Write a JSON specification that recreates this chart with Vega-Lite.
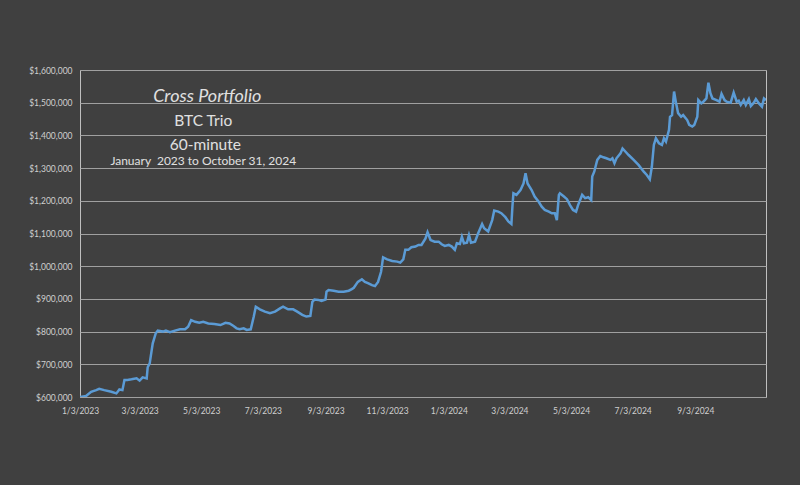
{
  "$schema": "https://vega.github.io/schema/vega-lite/v6.json",
  "width": 686,
  "height": 327,
  "autosize": {"type": "none"},
  "padding": {"left": 80, "top": 70, "right": 34, "bottom": 88},
  "background": "#404040",
  "config": {"view": {"stroke": "#bfbfbf", "strokeWidth": 1}, "font": "Lato"},
  "datasets": {
    "series": [
      {"date": "2023-01-03", "value": 600000},
      {"date": "2023-01-09", "value": 603000},
      {"date": "2023-01-14", "value": 616000},
      {"date": "2023-01-19", "value": 621000},
      {"date": "2023-01-22", "value": 625000},
      {"date": "2023-01-27", "value": 621000},
      {"date": "2023-02-03", "value": 616000},
      {"date": "2023-02-08", "value": 611000},
      {"date": "2023-02-11", "value": 623000},
      {"date": "2023-02-14", "value": 621000},
      {"date": "2023-02-16", "value": 652000},
      {"date": "2023-02-19", "value": 652000},
      {"date": "2023-02-23", "value": 654000},
      {"date": "2023-02-28", "value": 657000},
      {"date": "2023-03-03", "value": 650000},
      {"date": "2023-03-06", "value": 660000},
      {"date": "2023-03-10", "value": 657000},
      {"date": "2023-03-11", "value": 691000},
      {"date": "2023-03-13", "value": 703000},
      {"date": "2023-03-15", "value": 744000},
      {"date": "2023-03-16", "value": 764000},
      {"date": "2023-03-19", "value": 795000},
      {"date": "2023-03-21", "value": 803000},
      {"date": "2023-03-26", "value": 800000},
      {"date": "2023-03-29", "value": 803000},
      {"date": "2023-04-02", "value": 798000},
      {"date": "2023-04-07", "value": 803000},
      {"date": "2023-04-12", "value": 807000},
      {"date": "2023-04-17", "value": 807000},
      {"date": "2023-04-20", "value": 815000},
      {"date": "2023-04-23", "value": 835000},
      {"date": "2023-04-27", "value": 830000},
      {"date": "2023-05-01", "value": 827000},
      {"date": "2023-05-05", "value": 830000},
      {"date": "2023-05-10", "value": 825000},
      {"date": "2023-05-16", "value": 823000},
      {"date": "2023-05-22", "value": 820000},
      {"date": "2023-05-27", "value": 827000},
      {"date": "2023-05-31", "value": 825000},
      {"date": "2023-06-04", "value": 817000},
      {"date": "2023-06-07", "value": 810000},
      {"date": "2023-06-10", "value": 807000},
      {"date": "2023-06-14", "value": 810000},
      {"date": "2023-06-17", "value": 805000},
      {"date": "2023-06-21", "value": 807000},
      {"date": "2023-06-24", "value": 846000},
      {"date": "2023-06-26", "value": 876000},
      {"date": "2023-06-30", "value": 868000},
      {"date": "2023-07-05", "value": 861000},
      {"date": "2023-07-10", "value": 856000},
      {"date": "2023-07-15", "value": 861000},
      {"date": "2023-07-20", "value": 871000},
      {"date": "2023-07-23", "value": 876000},
      {"date": "2023-07-28", "value": 868000},
      {"date": "2023-08-02", "value": 868000},
      {"date": "2023-08-06", "value": 861000},
      {"date": "2023-08-11", "value": 851000},
      {"date": "2023-08-15", "value": 846000},
      {"date": "2023-08-19", "value": 848000},
      {"date": "2023-08-21", "value": 891000},
      {"date": "2023-08-23", "value": 898000},
      {"date": "2023-08-27", "value": 897000},
      {"date": "2023-08-30", "value": 894000},
      {"date": "2023-09-03", "value": 898000},
      {"date": "2023-09-04", "value": 922000},
      {"date": "2023-09-06", "value": 927000},
      {"date": "2023-09-11", "value": 925000},
      {"date": "2023-09-16", "value": 922000},
      {"date": "2023-09-21", "value": 922000},
      {"date": "2023-09-26", "value": 925000},
      {"date": "2023-09-29", "value": 930000},
      {"date": "2023-10-01", "value": 934000},
      {"date": "2023-10-05", "value": 952000},
      {"date": "2023-10-09", "value": 960000},
      {"date": "2023-10-12", "value": 952000},
      {"date": "2023-10-15", "value": 948000},
      {"date": "2023-10-19", "value": 942000},
      {"date": "2023-10-22", "value": 939000},
      {"date": "2023-10-25", "value": 952000},
      {"date": "2023-10-28", "value": 983000},
      {"date": "2023-10-30", "value": 1027000},
      {"date": "2023-11-03", "value": 1021000},
      {"date": "2023-11-08", "value": 1016000},
      {"date": "2023-11-13", "value": 1014000},
      {"date": "2023-11-16", "value": 1011000},
      {"date": "2023-11-19", "value": 1021000},
      {"date": "2023-11-21", "value": 1050000},
      {"date": "2023-11-24", "value": 1050000},
      {"date": "2023-11-27", "value": 1058000},
      {"date": "2023-12-01", "value": 1060000},
      {"date": "2023-12-04", "value": 1065000},
      {"date": "2023-12-07", "value": 1065000},
      {"date": "2023-12-11", "value": 1085000},
      {"date": "2023-12-13", "value": 1104000},
      {"date": "2023-12-16", "value": 1080000},
      {"date": "2023-12-20", "value": 1075000},
      {"date": "2023-12-24", "value": 1075000},
      {"date": "2023-12-27", "value": 1067000},
      {"date": "2023-12-30", "value": 1062000},
      {"date": "2024-01-03", "value": 1065000},
      {"date": "2024-01-06", "value": 1060000},
      {"date": "2024-01-09", "value": 1050000},
      {"date": "2024-01-11", "value": 1070000},
      {"date": "2024-01-14", "value": 1068000},
      {"date": "2024-01-16", "value": 1090000},
      {"date": "2024-01-18", "value": 1070000},
      {"date": "2024-01-21", "value": 1072000},
      {"date": "2024-01-23", "value": 1095000},
      {"date": "2024-01-25", "value": 1072000},
      {"date": "2024-01-29", "value": 1075000},
      {"date": "2024-02-01", "value": 1100000},
      {"date": "2024-02-05", "value": 1129000},
      {"date": "2024-02-07", "value": 1116000},
      {"date": "2024-02-11", "value": 1106000},
      {"date": "2024-02-15", "value": 1141000},
      {"date": "2024-02-17", "value": 1170000},
      {"date": "2024-02-21", "value": 1167000},
      {"date": "2024-02-24", "value": 1162000},
      {"date": "2024-02-28", "value": 1150000},
      {"date": "2024-03-02", "value": 1137000},
      {"date": "2024-03-05", "value": 1129000},
      {"date": "2024-03-06", "value": 1182000},
      {"date": "2024-03-07", "value": 1223000},
      {"date": "2024-03-10", "value": 1218000},
      {"date": "2024-03-14", "value": 1233000},
      {"date": "2024-03-17", "value": 1253000},
      {"date": "2024-03-19", "value": 1284000},
      {"date": "2024-03-21", "value": 1253000},
      {"date": "2024-03-25", "value": 1233000},
      {"date": "2024-03-28", "value": 1213000},
      {"date": "2024-04-01", "value": 1197000},
      {"date": "2024-04-04", "value": 1182000},
      {"date": "2024-04-07", "value": 1172000},
      {"date": "2024-04-11", "value": 1167000},
      {"date": "2024-04-14", "value": 1162000},
      {"date": "2024-04-17", "value": 1162000},
      {"date": "2024-04-19", "value": 1141000},
      {"date": "2024-04-21", "value": 1218000},
      {"date": "2024-04-22", "value": 1223000},
      {"date": "2024-04-26", "value": 1213000},
      {"date": "2024-04-29", "value": 1205000},
      {"date": "2024-05-02", "value": 1187000},
      {"date": "2024-05-05", "value": 1172000},
      {"date": "2024-05-08", "value": 1167000},
      {"date": "2024-05-10", "value": 1187000},
      {"date": "2024-05-14", "value": 1218000},
      {"date": "2024-05-17", "value": 1208000},
      {"date": "2024-05-20", "value": 1211000},
      {"date": "2024-05-23", "value": 1202000},
      {"date": "2024-05-24", "value": 1274000},
      {"date": "2024-05-26", "value": 1289000},
      {"date": "2024-05-29", "value": 1325000},
      {"date": "2024-06-01", "value": 1337000},
      {"date": "2024-06-04", "value": 1333000},
      {"date": "2024-06-07", "value": 1330000},
      {"date": "2024-06-11", "value": 1325000},
      {"date": "2024-06-13", "value": 1330000},
      {"date": "2024-06-15", "value": 1315000},
      {"date": "2024-06-17", "value": 1330000},
      {"date": "2024-06-21", "value": 1345000},
      {"date": "2024-06-23", "value": 1360000},
      {"date": "2024-06-26", "value": 1350000},
      {"date": "2024-06-29", "value": 1340000},
      {"date": "2024-07-04", "value": 1325000},
      {"date": "2024-07-09", "value": 1309000},
      {"date": "2024-07-14", "value": 1289000},
      {"date": "2024-07-17", "value": 1279000},
      {"date": "2024-07-20", "value": 1266000},
      {"date": "2024-07-22", "value": 1304000},
      {"date": "2024-07-24", "value": 1371000},
      {"date": "2024-07-26", "value": 1391000},
      {"date": "2024-07-29", "value": 1376000},
      {"date": "2024-08-01", "value": 1371000},
      {"date": "2024-08-03", "value": 1391000},
      {"date": "2024-08-05", "value": 1381000},
      {"date": "2024-08-08", "value": 1417000},
      {"date": "2024-08-09", "value": 1457000},
      {"date": "2024-08-11", "value": 1462000},
      {"date": "2024-08-13", "value": 1534000},
      {"date": "2024-08-15", "value": 1498000},
      {"date": "2024-08-17", "value": 1468000},
      {"date": "2024-08-20", "value": 1457000},
      {"date": "2024-08-22", "value": 1462000},
      {"date": "2024-08-26", "value": 1447000},
      {"date": "2024-08-28", "value": 1432000},
      {"date": "2024-08-31", "value": 1427000},
      {"date": "2024-09-02", "value": 1432000},
      {"date": "2024-09-05", "value": 1457000},
      {"date": "2024-09-06", "value": 1508000},
      {"date": "2024-09-09", "value": 1498000},
      {"date": "2024-09-11", "value": 1503000},
      {"date": "2024-09-14", "value": 1513000},
      {"date": "2024-09-16", "value": 1561000},
      {"date": "2024-09-18", "value": 1529000},
      {"date": "2024-09-20", "value": 1513000},
      {"date": "2024-09-24", "value": 1508000},
      {"date": "2024-09-27", "value": 1503000},
      {"date": "2024-09-29", "value": 1527000},
      {"date": "2024-10-02", "value": 1508000},
      {"date": "2024-10-04", "value": 1503000},
      {"date": "2024-10-08", "value": 1500000},
      {"date": "2024-10-11", "value": 1531000},
      {"date": "2024-10-14", "value": 1503000},
      {"date": "2024-10-16", "value": 1506000},
      {"date": "2024-10-18", "value": 1493000},
      {"date": "2024-10-21", "value": 1508000},
      {"date": "2024-10-23", "value": 1493000},
      {"date": "2024-10-26", "value": 1511000},
      {"date": "2024-10-28", "value": 1490000},
      {"date": "2024-10-31", "value": 1500000},
      {"date": "2024-11-02", "value": 1511000},
      {"date": "2024-11-05", "value": 1498000},
      {"date": "2024-11-08", "value": 1488000},
      {"date": "2024-11-10", "value": 1513000},
      {"date": "2024-11-12", "value": 1508000}
    ]
  },
  "encoding": {
    "y": {
      "type": "quantitative",
      "scale": {"domain": [600000, 1600000], "nice": false, "zero": false},
      "axis": {
        "title": null,
        "values": [600000, 700000, 800000, 900000, 1000000, 1100000, 1200000, 1300000, 1400000, 1500000, 1600000],
        "format": "$,.0f",
        "ticks": false,
        "domain": false,
        "gridColor": "#a0a0a0",
        "gridWidth": 1,
        "labelColor": "#cfcfcf",
        "labelFontSize": 8.5,
        "labelPadding": 8,
        "labelOverlap": false,
        "labelFlush": false
      }
    }
  },
  "layer": [
    {
      "data": {"name": "series", "format": {"parse": {"date": "date:'%Y-%m-%d'"}}},
      "mark": {"type": "line", "color": "#5b9bd5", "strokeWidth": 2.5, "clip": true},
      "encoding": {
        "x": {
          "field": "date",
          "type": "temporal",
          "scale": {"domain": [{"year": 2023, "month": 1, "date": 3}, {"year": 2024, "month": 11, "date": 12}]},
          "axis": {
            "title": null,
            "grid": false,
            "ticks": false,
            "domain": false,
            "format": "%-m/%-d/%Y",
            "labelColor": "#cfcfcf",
            "labelFontSize": 8.5,
            "labelPadding": 9,
            "labelFlush": false,
            "labelOverlap": false,
            "values": [
              {"year": 2023, "month": 1, "date": 3},
              {"year": 2023, "month": 3, "date": 3},
              {"year": 2023, "month": 5, "date": 3},
              {"year": 2023, "month": 7, "date": 3},
              {"year": 2023, "month": 9, "date": 3},
              {"year": 2023, "month": 11, "date": 3},
              {"year": 2024, "month": 1, "date": 3},
              {"year": 2024, "month": 3, "date": 3},
              {"year": 2024, "month": 5, "date": 3},
              {"year": 2024, "month": 7, "date": 3},
              {"year": 2024, "month": 9, "date": 3}
            ]
          }
        },
        "y": {"field": "value"}
      }
    },
    {
      "data": {"values": [{"label": "Cross Portfolio", "v": 1517000}]},
      "mark": {"type": "text", "fontStyle": "italic", "fontSize": 18, "color": "#e0e0e0", "align": "center", "baseline": "middle"},
      "encoding": {
        "x": {"datum": {"year": 2023, "month": 5, "date": 9}, "type": "temporal"},
        "y": {"field": "v"},
        "text": {"field": "label"}
      }
    },
    {
      "data": {"values": [{"label": "BTC Trio", "v": 1444000}]},
      "mark": {"type": "text", "fontSize": 15.5, "color": "#e0e0e0", "align": "center", "baseline": "middle"},
      "encoding": {
        "x": {"datum": {"year": 2023, "month": 5, "date": 5}, "type": "temporal"},
        "y": {"field": "v"},
        "text": {"field": "label"}
      }
    },
    {
      "data": {"values": [{"label": "60-minute", "v": 1370000}]},
      "mark": {"type": "text", "fontSize": 15.5, "color": "#e0e0e0", "align": "center", "baseline": "middle"},
      "encoding": {
        "x": {"datum": {"year": 2023, "month": 5, "date": 7}, "type": "temporal"},
        "y": {"field": "v"},
        "text": {"field": "label"}
      }
    },
    {
      "data": {"values": [{"label": "January\u00a0 2023 to October 31, 2024", "v": 1321000}]},
      "mark": {"type": "text", "fontSize": 12, "color": "#e0e0e0", "align": "center", "baseline": "middle"},
      "encoding": {
        "x": {"datum": {"year": 2023, "month": 5, "date": 5}, "type": "temporal"},
        "y": {"field": "v"},
        "text": {"field": "label"}
      }
    }
  ]
}
